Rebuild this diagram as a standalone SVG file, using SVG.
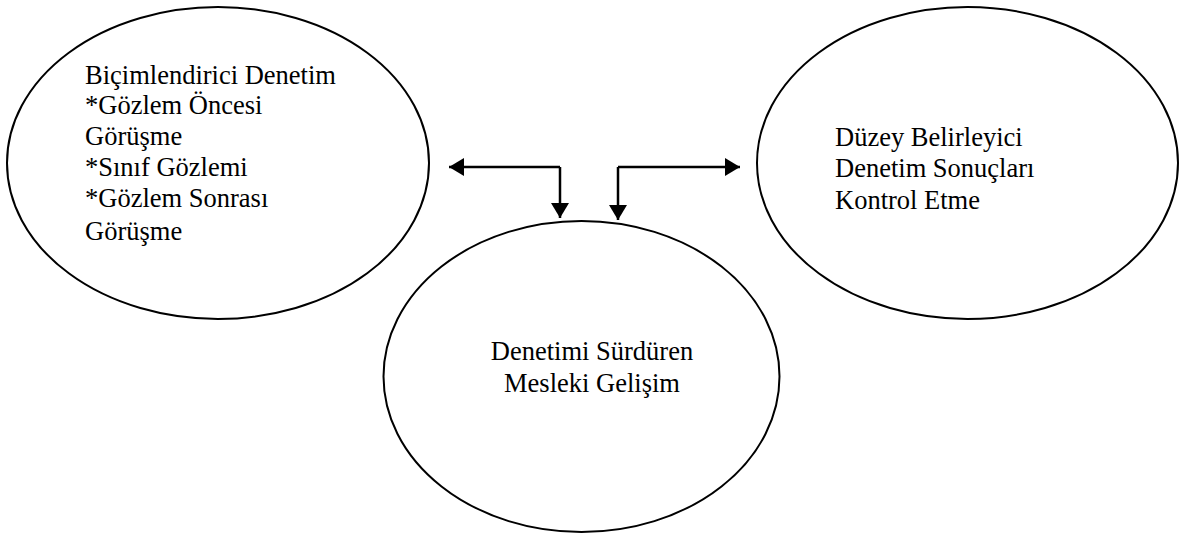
<svg xmlns="http://www.w3.org/2000/svg" width="1179" height="533" viewBox="0 0 1179 533">
  <style>
    .node { fill: #ffffff; stroke: #000000; stroke-width: 2; }
    .label { font-family: "Liberation Serif", "DejaVu Serif", "Times New Roman", serif; font-size: 26.5px; fill: #000000; }
    .link { fill: none; stroke: #000000; stroke-width: 2.5; }
  </style>
  <defs>
    <marker id="arrow" markerUnits="userSpaceOnUse" markerWidth="16" markerHeight="18" refX="15" refY="9" orient="auto">
      <path d="M0,0 L15,9 L0,18 Z" fill="#000000"/>
    </marker>
  </defs>

  <g id="node-bicimlendirici">
    <ellipse class="node" cx="218" cy="163" rx="211" ry="156"/>
    <text class="label" x="85" y="84">Biçimlendirici Denetim</text>
    <text class="label" x="85" y="114">*Gözlem Öncesi</text>
    <text class="label" x="85" y="145">Görüşme</text>
    <text class="label" x="85" y="176">*Sınıf Gözlemi</text>
    <text class="label" x="85" y="207">*Gözlem Sonrası</text>
    <text class="label" x="85" y="240">Görüşme</text>
  </g>

  <g id="node-duzey">
    <ellipse class="node" cx="967.5" cy="163" rx="210.5" ry="156"/>
    <text class="label" x="835" y="146">Düzey Belirleyici</text>
    <text class="label" x="835" y="177">Denetim Sonuçları</text>
    <text class="label" x="835" y="209">Kontrol Etme</text>
  </g>

  <g id="node-surduren">
    <ellipse class="node" cx="581.5" cy="376.5" rx="198" ry="155.5"/>
    <text class="label" x="592" y="360" text-anchor="middle">Denetimi Sürdüren</text>
    <text class="label" x="592" y="392" text-anchor="middle">Mesleki Gelişim</text>
  </g>

  <g id="connectors">
    <path class="link" d="M560,167 L449,167" marker-end="url(#arrow)"/>
    <path class="link" d="M560,167 L560,218" marker-end="url(#arrow)"/>
    <path class="link" d="M618,167 L618,220" marker-end="url(#arrow)"/>
    <path class="link" d="M618,167 L740,167" marker-end="url(#arrow)"/>
  </g>
</svg>
